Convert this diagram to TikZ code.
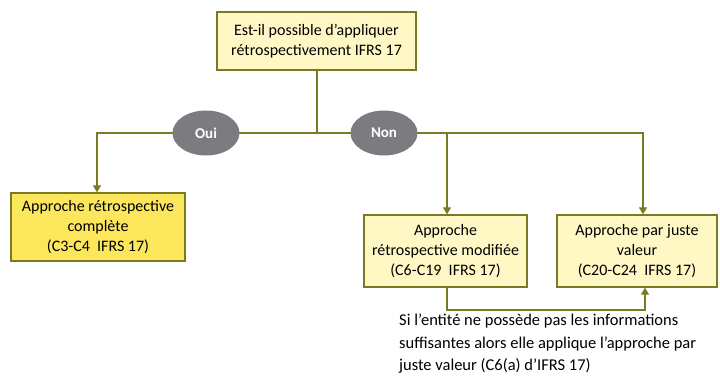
\documentclass[tikz,border=0pt]{standalone}
\usepackage{fontspec}
\setmainfont{Carlito}
\usetikzlibrary{arrows.meta,shapes.geometric}
\definecolor{olive}{HTML}{7A7A22}
\definecolor{paleyel}{HTML}{FFF8C4}
\definecolor{yel}{HTML}{FCE65C}
\definecolor{grayell}{HTML}{7B7B80}
\begin{document}
\begin{tikzpicture}[x=1pt,y=-1pt,
  box/.style={draw=olive,line width=1.3pt,fill=paleyel,align=center,font=\fontsize{16}{20}\selectfont,inner sep=0pt},
  choice/.style={ellipse,fill=grayell,text=white,font=\fontsize{15}{17}\bfseries\selectfont,minimum width=67pt,minimum height=45pt,inner sep=0pt},
  conn/.style={draw=olive,line width=1.1pt},
  arr/.style={conn,-{Triangle[width=8pt,length=7pt]}}]
\useasboundingbox (0,0) rectangle (720,376);
\node[box,minimum width=199pt,minimum height=58pt] (top) at (316.5,41) {Est-il possible d’appliquer\\rétrospectivement IFRS 17};
\node[box,fill=yel,minimum width=174pt,minimum height=68pt] (full) at (98,227) {Approche rétrospective\\complète\\(C3-C4~~IFRS 17)};
\node[box,minimum width=163pt,minimum height=72pt] (mod) at (445.5,251) {Approche\\rétrospective modifiée\\(C6-C19~~IFRS 17)};
\node[box,minimum width=160pt,minimum height=72pt] (fair) at (637,251) {Approche par juste\\valeur\\(C20-C24~~IFRS 17)};
\coordinate (j) at (317,133);
\coordinate (l) at (97,133);
\coordinate (r) at (643,133);
\coordinate (m) at (447,133);
\coordinate (b1) at (447,310);
\coordinate (b2) at (645,310);
\draw[conn] (top.south -| j) -- (j);
\draw[arr] (j) -- (l) -- (full.north -| l);
\draw[arr] (j) -- (r) -- (fair.north -| r);
\draw[arr] (m) -- (mod.north -| m);
\draw[arr] (mod.south -| b1) -- (b1) -- (b2) -- (fair.south -| b2);
\node[choice] (oui) at (206,133) {Oui};
\node[choice] (non) at (384,133) {Non};
\node[anchor=north west,align=left,inner sep=0pt,font=\fontsize{16.5}{22.5}\selectfont] (note) at (399,314) {Si l’entité ne possède pas les informations\\suffisantes alors elle applique l’approche par\\juste valeur (C6(a) d’IFRS 17)};
\end{tikzpicture}
\end{document}
